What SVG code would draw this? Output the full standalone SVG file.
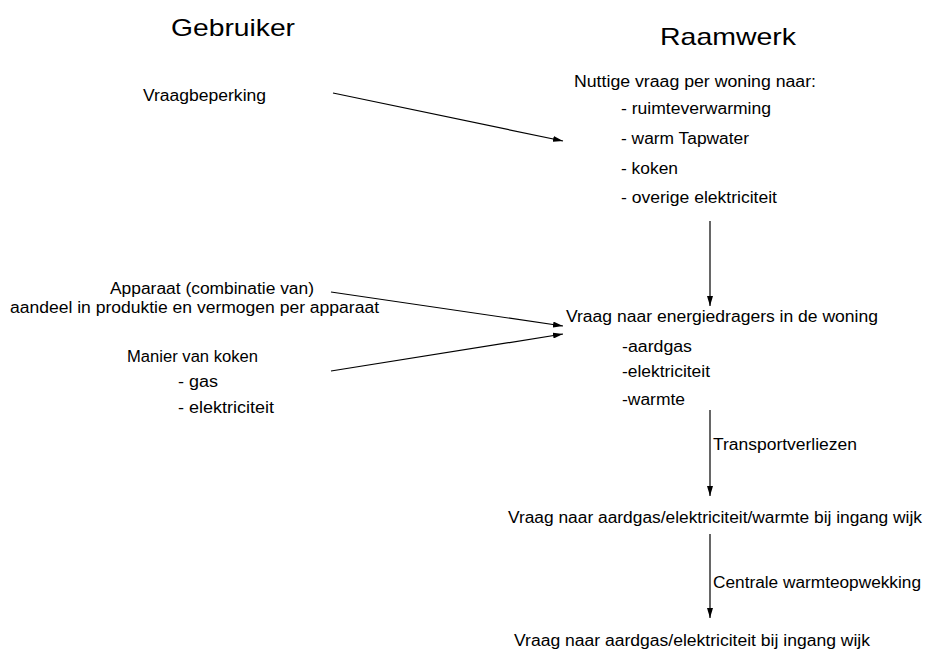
<svg xmlns="http://www.w3.org/2000/svg" width="926" height="655" viewBox="0 0 926 655">
<style>
text{font-family:"Liberation Sans",Arial,sans-serif;fill:#000;font-size:16px}
.t{font-size:24px}
.c{stroke:#000;stroke-width:1.2;fill:none;marker-end:url(#ah)}
</style>
<defs>
<marker id="ah" viewBox="0 0 10 6" refX="10" refY="3" markerWidth="10" markerHeight="6" markerUnits="userSpaceOnUse" orient="auto">
<path d="M0,0L10,3L0,6z" fill="#000"/>
</marker>
</defs>
<rect width="926" height="655" fill="#fff"/>
<g id="title-gebruiker"><text class="t" x="171" y="36" textLength="124" lengthAdjust="spacingAndGlyphs">Gebruiker</text></g>
<g id="title-raamwerk"><text class="t" x="660" y="45" textLength="136" lengthAdjust="spacingAndGlyphs">Raamwerk</text></g>
<g id="vraagbeperking"><text x="143" y="101" textLength="123" lengthAdjust="spacingAndGlyphs">Vraagbeperking</text></g>
<g id="nuttige-vraag">
<text x="574" y="87" textLength="242" lengthAdjust="spacingAndGlyphs">Nuttige vraag per woning naar:</text>
<text x="621" y="114" textLength="150" lengthAdjust="spacingAndGlyphs">- ruimteverwarming</text>
<text x="621" y="144" textLength="128" lengthAdjust="spacingAndGlyphs">- warm Tapwater</text>
<text x="621" y="174" textLength="57" lengthAdjust="spacingAndGlyphs">- koken</text>
<text x="621" y="203" textLength="156" lengthAdjust="spacingAndGlyphs">- overige elektriciteit</text>
</g>
<g id="apparaat">
<text x="110" y="294" textLength="204" lengthAdjust="spacingAndGlyphs">Apparaat (combinatie van)</text>
<text x="10" y="313" textLength="369" lengthAdjust="spacingAndGlyphs">aandeel in produktie en vermogen per apparaat</text>
</g>
<g id="koken">
<text x="127" y="362" textLength="131" lengthAdjust="spacingAndGlyphs">Manier van koken</text>
<text x="178" y="387" textLength="40" lengthAdjust="spacingAndGlyphs">- gas</text>
<text x="178" y="413" textLength="96" lengthAdjust="spacingAndGlyphs">- elektriciteit</text>
</g>
<g id="energiedragers">
<text x="566" y="322" textLength="312" lengthAdjust="spacingAndGlyphs">Vraag naar energiedragers in de woning</text>
<text x="622" y="352" textLength="70" lengthAdjust="spacingAndGlyphs">-aardgas</text>
<text x="622" y="377" textLength="88" lengthAdjust="spacingAndGlyphs">-elektriciteit</text>
<text x="622" y="405" textLength="63" lengthAdjust="spacingAndGlyphs">-warmte</text>
</g>
<g id="ingang-wijk-1"><text x="508" y="523" textLength="414" lengthAdjust="spacingAndGlyphs">Vraag naar aardgas/elektriciteit/warmte bij ingang wijk</text></g>
<g id="ingang-wijk-2"><text x="514" y="646" textLength="356" lengthAdjust="spacingAndGlyphs">Vraag naar aardgas/elektriciteit bij ingang wijk</text></g>
<g id="connectors">
<line class="c" x1="333" y1="93" x2="563" y2="141"/>
<line class="c" x1="331" y1="292" x2="563" y2="326"/>
<line class="c" x1="331" y1="371" x2="563" y2="334"/>
<line class="c" x1="710" y1="221" x2="710" y2="306"/>
<line class="c" x1="710" y1="410" x2="710" y2="496"/>
<line class="c" x1="710" y1="534" x2="710" y2="618"/>
<text x="713" y="450" textLength="144" lengthAdjust="spacingAndGlyphs">Transportverliezen</text>
<text x="713" y="588" textLength="208" lengthAdjust="spacingAndGlyphs">Centrale warmteopwekking</text>
</g>
</svg>
